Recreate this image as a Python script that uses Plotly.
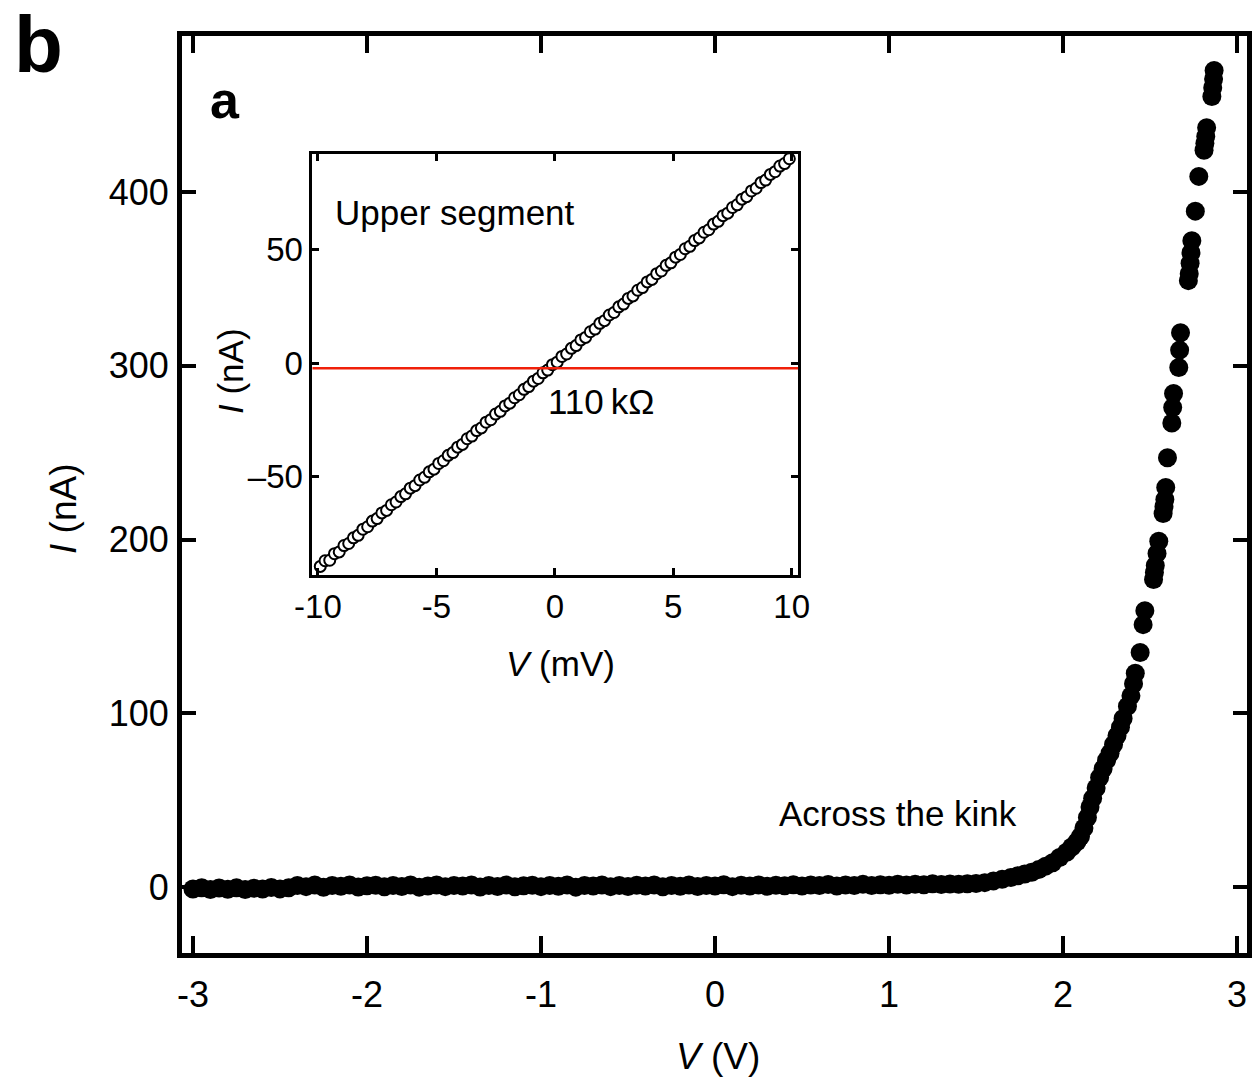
import plotly.graph_objects as go

# ---- main I-V sweep across the kink (V in volts, I in nA) ----
V_flat = [
    -3.00, -2.95, -2.90, -2.85, -2.80, -2.75, -2.70, -2.65, -2.60, -2.55,
    -2.50, -2.45, -2.40, -2.35, -2.30, -2.25, -2.20, -2.15, -2.10, -2.05,
    -2.00, -1.95, -1.90, -1.85, -1.80, -1.75, -1.70, -1.65, -1.60, -1.55,
    -1.50, -1.45, -1.40, -1.35, -1.30, -1.25, -1.20, -1.15, -1.10, -1.05,
    -1.00, -0.95, -0.90, -0.85, -0.80, -0.75, -0.70, -0.65, -0.60, -0.55,
    -0.50, -0.45, -0.40, -0.35, -0.30, -0.25, -0.20, -0.15, -0.10, -0.05,
    0.00, 0.05, 0.10, 0.15, 0.20, 0.25, 0.30, 0.35, 0.40, 0.45,
    0.50, 0.55, 0.60, 0.65, 0.70, 0.75, 0.80, 0.85, 0.90, 0.95,
    1.00, 1.05, 1.10, 1.15, 1.20, 1.25, 1.30, 1.35, 1.40, 1.45,
]
I_flat = [
    -1.2, -0.4, -1.5, -0.6, -1.3, -0.5, -1.4, -0.7, -1.2, -0.3,
    -1.1, -0.5,
    0.9, 0.2, 1.1, -0.2, 0.8, 0.4, 1.2, 0.0, 0.7, 1.0, 0.1, 0.9, 0.3, 1.2, -0.1, 0.6, 1.1, 0.2, 0.8, 0.5,
    1.2, 0.0, 0.9, 0.3, 1.1, 0.1, 0.7, 1.0, 0.2, 0.9, 0.4, 1.2, -0.1, 0.8, 0.5, 1.1, 0.2, 0.9, 0.3, 1.0,
    0.6, 1.2, 0.1, 0.8, 0.4, 1.1, 0.3, 0.9, 0.6, 1.3, 0.2, 1.0, 0.5, 1.2, 0.4, 1.0, 0.7, 1.3, 0.5, 1.1,
    0.8, 1.4, 0.6, 1.2, 0.9, 1.5, 0.8, 1.3, 1.0, 1.6, 1.1, 1.5, 1.3, 1.8, 1.4, 1.7, 1.6, 1.9,
]
V_rise = [
    1.50, 1.55, 1.60, 1.65, 1.70, 1.74, 1.78, 1.82, 1.86, 1.90,
    1.94, 1.98, 2.02, 2.05, 2.08, 2.10, 2.12, 2.14, 2.155, 2.17,
    2.19, 2.21, 2.23, 2.25, 2.27, 2.29, 2.31, 2.33, 2.345, 2.37,
    2.39, 2.405, 2.415,
    2.443,
    2.46, 2.47,
    2.52, 2.525, 2.53, 2.54, 2.55,
    2.575, 2.58, 2.585, 2.59,
    2.60,
    2.625, 2.63, 2.635,
    2.665, 2.67, 2.675,
    2.72, 2.725, 2.73, 2.735, 2.74,
    2.76,
    2.78,
    2.81, 2.815, 2.82, 2.825,
    2.855, 2.86, 2.865, 2.868,
]
I_rise = [
    2.0, 2.5, 3.5, 4.5, 5.5, 6.5, 7.5, 8.5, 10, 12,
    14, 17, 20, 23, 26, 29, 34, 40, 46, 51,
    57, 63, 68, 73, 77, 82, 87, 92, 97, 104,
    110, 117, 123,
    135,
    151, 159,
    177, 181, 185, 192, 199,
    215, 219, 223, 230,
    247,
    267, 276, 284,
    299, 309, 319,
    349, 353, 359, 365, 372,
    389,
    409,
    424, 428, 432, 437,
    455, 460, 465, 470,
]

# ---- inset: upper segment, low-bias sweep (V in mV, I in nA) ----
V_inset = [
    -9.9, -9.7, -9.5, -9.3, -9.1, -8.9, -8.7, -8.5, -8.3, -8.1,
    -7.9, -7.7, -7.5, -7.3, -7.1, -6.9, -6.7, -6.5, -6.3, -6.1,
    -5.9, -5.7, -5.5, -5.3, -5.1, -4.9, -4.7, -4.5, -4.3, -4.1,
    -3.9, -3.7, -3.5, -3.3, -3.1, -2.9, -2.7, -2.5, -2.3, -2.1,
    -1.9, -1.7, -1.5, -1.3, -1.1, -0.9, -0.7, -0.5, -0.3, -0.1,
    0.1, 0.3, 0.5, 0.7, 0.9, 1.1, 1.3, 1.5, 1.7, 1.9,
    2.1, 2.3, 2.5, 2.7, 2.9, 3.1, 3.3, 3.5, 3.7, 3.9,
    4.1, 4.3, 4.5, 4.7, 4.9, 5.1, 5.3, 5.5, 5.7, 5.9,
    6.1, 6.3, 6.5, 6.7, 6.9, 7.1, 7.3, 7.5, 7.7, 7.9,
    8.1, 8.3, 8.5, 8.7, 8.9, 9.1, 9.3, 9.5, 9.7, 9.9,
]
I_inset = [
    -89.6, -87.1, -86.9, -84.0, -83.2, -80.4, -79.5, -77.0, -75.9, -73.2,
    -72.1, -69.6, -68.5, -66.0, -64.9, -62.4, -61.2, -58.8, -57.6, -55.1,
    -54.0, -51.5, -50.3, -47.9, -46.7, -44.2, -43.0, -40.6, -39.4, -37.0,
    -35.8, -33.3, -32.1, -29.7, -28.5, -26.0, -24.9, -22.4, -21.2, -18.8,
    -17.6, -15.2, -13.9, -11.5, -10.3, -7.9, -6.7, -4.2, -3.0, -0.6,
    0.5, 3.0, 4.1, 6.6, 7.8, 10.3, 11.4, 13.9, 15.1, 17.6,
    18.8, 21.3, 22.4, 24.9, 26.1, 28.6, 29.7, 32.2, 33.4, 35.9,
    37.0, 39.5, 40.7, 43.2, 44.3, 46.8, 48.0, 50.5, 51.6, 54.1,
    55.3, 57.8, 58.9, 61.4, 62.6, 65.1, 66.2, 68.7, 69.9, 72.4,
    73.5, 76.0, 77.2, 79.7, 80.8, 83.3, 84.5, 87.0, 88.1, 90.2,
]
INSET_BASELINE_I = -2.2

# tick labels
main_xticks = [-3, -2, -1, 0, 1, 2, 3]
main_xtext = ["-3", "-2", "-1", "0", "1", "2", "3"]
main_yticks = [0, 100, 200, 300, 400]
main_ytext = ["0", "100", "200", "300", "400"]
inset_xticks = [-10, -5, 0, 5, 10]
inset_xtext = ["-10", "-5", "0", "5", "10"]
inset_yticks = [-50, 0, 50]
inset_ytext = ["\u201350", "0", "50"]

FONT = "Liberation Sans Narrow, Arial Narrow, Liberation Sans, Arial, sans-serif"

fig = go.Figure()

fig.add_trace(go.Scatter(
    x=V_flat + V_rise, y=I_flat + I_rise, mode="markers",
    marker=dict(size=19, color="black", line=dict(width=0)),
    xaxis="x", yaxis="y", showlegend=False, hoverinfo="skip",
))
fig.add_trace(go.Scatter(
    x=V_inset, y=I_inset, mode="markers",
    marker=dict(size=11, color="white", line=dict(width=2, color="black")),
    xaxis="x2", yaxis="y2", showlegend=False, hoverinfo="skip",
))

main_axis = dict(
    showline=True, linewidth=5, linecolor="black", mirror="ticks",
    ticks="inside", tickwidth=4, tickcolor="black",
    showgrid=False, zeroline=False, automargin=False,
    tickfont=dict(family=FONT, size=36, color="black"),
)
inset_axis = dict(
    showline=True, linewidth=3, linecolor="black", mirror="ticks",
    ticks="inside", tickwidth=2.5, ticklen=7, tickcolor="black",
    showgrid=False, zeroline=False, automargin=False,
    tickfont=dict(family=FONT, size=33, color="black"),
)

fig.update_layout(
    width=1254, height=1085,
    margin=dict(l=182, r=7, t=36, b=132, autoexpand=False),
    paper_bgcolor="white", plot_bgcolor="white",
    font=dict(family=FONT, color="black"),
    xaxis=dict(main_axis, range=[-3.063, 3.057], tickvals=main_xticks,
               ticktext=main_xtext, ticklen=17, ticklabelstandoff=6),
    yaxis=dict(main_axis, range=[-38.0, 489.8], tickvals=main_yticks,
               ticktext=main_ytext, ticklen=14, ticklabelstandoff=1),
    xaxis2=dict(inset_axis, domain=[0.1225, 0.5785], anchor="y2",
                range=[-10.23, 10.27], tickvals=inset_xticks,
                ticktext=inset_xtext, ticklabelstandoff=0),
    yaxis2=dict(inset_axis, domain=[0.4122, 0.8713], anchor="x2",
                range=[-93.4, 92.3], tickvals=inset_yticks,
                ticktext=inset_ytext, ticklabelstandoff=0),
)

# baseline through the inset
fig.add_shape(type="line", xref="x2 domain", yref="y2",
              x0=0, x1=1, y0=INSET_BASELINE_I, y1=INSET_BASELINE_I,
              line=dict(color="#f0200a", width=2.5), layer="above")

# paper coords are relative to the plot area, so convert from page pixels
def page_label(text, px, py, size, xanchor="center", yanchor="middle", angle=0):
    x = (px - 182) / 1065
    y = (953 - py) / 917
    fig.add_annotation(text=text, x=x, y=y, xref="paper", yref="paper",
                       showarrow=False, xanchor=xanchor, yanchor=yanchor,
                       textangle=angle,
                       font=dict(family=FONT, size=size, color="black"))

page_label("<b>b</b>", 12, 44, 80, xanchor="left")
page_label("<b>a</b>", 225, 100, 52)
page_label("<i>I</i> (nA)", 63, 509, 37, angle=-90)
page_label("<i>V</i> (V)", 718, 1056, 37)
page_label("<i>I</i> (nA)", 231, 371, 35, angle=-90)
page_label("<i>V</i> (mV)", 560, 663, 35)
page_label("Upper segment", 333, 213, 35, xanchor="left")
page_label("110\u2009k\u03a9", 601, 401, 35)
page_label("Across the kink", 777, 813, 35, xanchor="left")

fig.write_html("out.html")
